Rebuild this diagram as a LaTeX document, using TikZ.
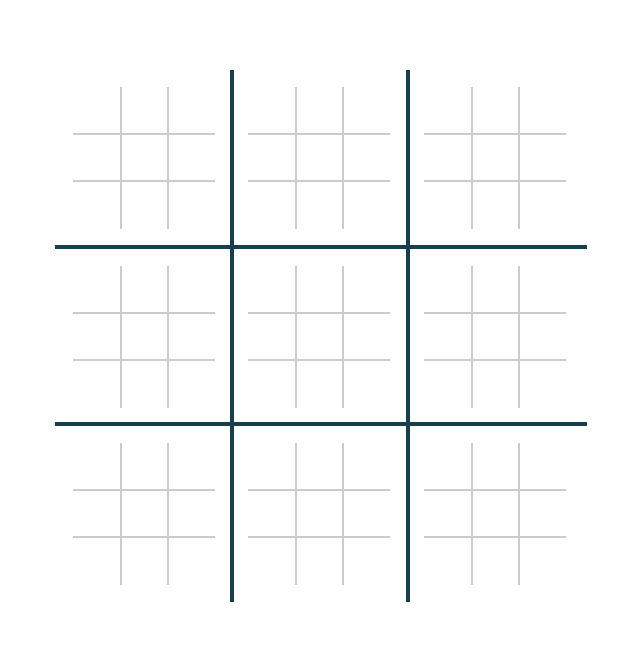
\documentclass[tikz,border=0pt]{standalone}
\usepackage{tikz}
\definecolor{boardteal}{HTML}{173F4C}
\definecolor{cellgray}{HTML}{CCCCCC}

\begin{document}
\begin{tikzpicture}[x=0.75pt,y=-0.75pt,
  bigline/.style={line width=3pt,boardteal},
  smallline/.style={line width=1.5pt,cellgray}]
\useasboundingbox (0,0) rectangle (631,670);
% small boards
\foreach \x in {73,248,424} {
  \foreach \y in {87,266,443} {
    \draw[smallline] (\x+47.5,\y) -- (\x+47.5,\y+142);
    \draw[smallline] (\x+94.5,\y) -- (\x+94.5,\y+142);
    \draw[smallline] (\x,\y+47) -- (\x+142,\y+47);
    \draw[smallline] (\x,\y+94) -- (\x+142,\y+94);
  }
}
% big board
\draw[bigline] (232,70) -- (232,602);
\draw[bigline] (408,70) -- (408,602);
\draw[bigline] (55,246.5) -- (587,246.5);
\draw[bigline] (55,424) -- (587,424);
\end{tikzpicture}
\end{document}
